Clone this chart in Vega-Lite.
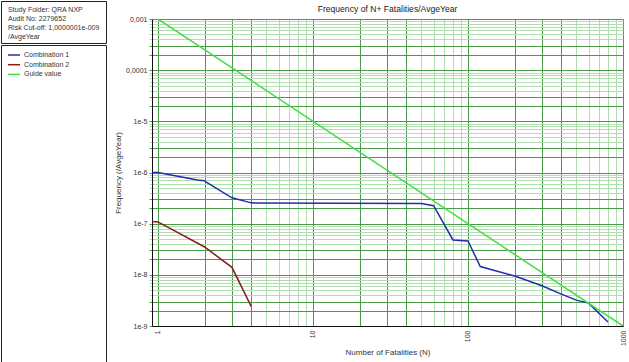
{
  "$schema": "https://vega.github.io/schema/vega-lite/v6.json",
  "padding": 0,
  "background": "white",
  "config": {
    "font": "Liberation Sans",
    "view": {"stroke": null},
    "axis": {"labelColor": "#333", "titleColor": "#333"}
  },
  "spacing": 7,
  "hconcat": [
    {
      "spacing": 0,
      "vconcat": [
        {
          "width": 105,
          "height": 42,
          "view": {"stroke": "#222", "strokeWidth": 1},
          "data": {
            "values": [
              {"row": 1, "col": 0, "info": "Study Folder: QRA NXP"},
              {"row": 2, "col": 0, "info": "Audit No: 2279652"},
              {"row": 3, "col": 0, "info": "Risk Cut-off: 1,0000001e-009"},
              {"row": 4, "col": 0, "info": "/AvgeYear"}
            ]
          },
          "mark": {"type": "text", "align": "left", "baseline": "middle", "fontSize": 7, "color": "#333"},
          "encoding": {
            "x": {"field": "col", "type": "ordinal", "scale": {"type": "point", "align": 0.067}, "axis": null},
            "y": {"field": "row", "type": "ordinal", "scale": {"type": "point", "padding": 0.86, "align": 0.62}, "axis": null},
            "text": {"field": "info"}
          }
        },
        {
          "width": 105,
          "height": 318,
          "view": {"stroke": "#222", "strokeWidth": 1},
          "data": {"values": []},
          "mark": "point"
        }
      ]
    },
    {
      "spacing": 0,
      "vconcat": [
        {
          "width": 471,
          "height": 14,
          "data": {"values": [{"chartTitle": "Frequency of N+ Fatalities/AvgeYear"}]},
          "mark": {"type": "text", "fontSize": 8.6, "color": "#222", "baseline": "middle", "align": "center", "dy": 1},
          "encoding": {"text": {"field": "chartTitle"}}
        },
        {
          "width": 471,
          "height": 307,
          "data": {
            "values": [
              {"series": "Combination 1", "N": 0.915, "F": 1e-6},
              {"series": "Combination 1", "N": 1, "F": 1e-6},
              {"series": "Combination 1", "N": 1.8, "F": 7.1e-7},
              {"series": "Combination 1", "N": 2, "F": 6.9e-7},
              {"series": "Combination 1", "N": 2.05, "F": 6.5e-7},
              {"series": "Combination 1", "N": 3, "F": 3.2e-7},
              {"series": "Combination 1", "N": 4, "F": 2.55e-7},
              {"series": "Combination 1", "N": 50, "F": 2.47e-7},
              {"series": "Combination 1", "N": 60, "F": 2.25e-7},
              {"series": "Combination 1", "N": 80, "F": 4.8e-8},
              {"series": "Combination 1", "N": 100, "F": 4.6e-8},
              {"series": "Combination 1", "N": 120, "F": 1.45e-8},
              {"series": "Combination 1", "N": 200, "F": 9.5e-9},
              {"series": "Combination 1", "N": 300, "F": 6.1e-9},
              {"series": "Combination 1", "N": 400, "F": 4.2e-9},
              {"series": "Combination 1", "N": 500, "F": 3.2e-9},
              {"series": "Combination 1", "N": 600, "F": 2.8e-9},
              {"series": "Combination 1", "N": 800, "F": 1.2e-9},
              {"series": "Combination 2", "N": 0.915, "F": 1.1e-7},
              {"series": "Combination 2", "N": 1, "F": 1.08e-7},
              {"series": "Combination 2", "N": 2, "F": 3.5e-8},
              {"series": "Combination 2", "N": 3, "F": 1.4e-8},
              {"series": "Combination 2", "N": 4, "F": 2.4e-9},
              {"series": "Guide value", "N": 1, "F": 1e-3},
              {"series": "Guide value", "N": 1000, "F": 1e-9}
            ]
          },
          "mark": {"type": "line", "strokeWidth": 1.5, "clip": true},
          "encoding": {
            "x": {
              "field": "N",
              "type": "quantitative",
              "scale": {"type": "log", "domain": [0.915, 1000], "nice": false},
              "axis": {
                "title": "Number of Fatalities (N)",
                "titleFontSize": 8,
                "titleFontWeight": "normal",
                "titlePadding": 3,
                "values": [1,2,3,4,5,6,7,8,9,10,20,30,40,50,60,70,80,90,100,200,300,400,500,600,700,800,900,1000],
                "labelExpr": "datum.value == 1 ? '1' : datum.value == 10 ? '10' : datum.value == 100 ? '100' : datum.value == 1000 ? '1000' : ''",
                "labelAngle": -90,
                "labelFontSize": 7,
                "labelPadding": 4,
                "labelOverlap": false,
                "labelFlush": false,
                "ticks": false,
                "domainColor": "#111",
                "gridOpacity": 1,
                "gridColor": {
                  "condition": {"test": "datum.value / pow(10, floor(log(datum.value)/LN10 + 1e-6)) < 4.5", "value": "#4a9a4a"},
                  "value": "#b0deb0"
                }
              }
            },
            "y": {
              "field": "F",
              "type": "quantitative",
              "scale": {"type": "log", "domain": [1e-9, 1e-3], "nice": false},
              "axis": {
                "title": "Frequency (/AvgeYear)",
                "titleFontSize": 8,
                "titleFontWeight": "normal",
                "titlePadding": 3,
                "values": [1e-9,2e-9,3e-9,4e-9,5e-9,6e-9,7e-9,8e-9,9e-9,1e-8,2e-8,3e-8,4e-8,5e-8,6e-8,7e-8,8e-8,9e-8,1e-7,2e-7,3e-7,4e-7,5e-7,6e-7,7e-7,8e-7,9e-7,1e-6,2e-6,3e-6,4e-6,5e-6,6e-6,7e-6,8e-6,9e-6,1e-5,2e-5,3e-5,4e-5,5e-5,6e-5,7e-5,8e-5,9e-5,1e-4,2e-4,3e-4,4e-4,5e-4,6e-4,7e-4,8e-4,9e-4,1e-3],
                "labelExpr": "abs(log(datum.value)/LN10 - round(log(datum.value)/LN10)) < 1e-6 ? (round(log(datum.value)/LN10) == -3 ? '0,001' : (round(log(datum.value)/LN10) == -4 ? '0,0001' : '1e' + round(log(datum.value)/LN10))) : ''",
                "labelFontSize": 7,
                "labelPadding": 2,
                "labelOverlap": false,
                "labelFlush": false,
                "tickSize": 3,
                "minExtent": 27,
                "maxExtent": 27,
                "domainColor": "#111",
                "gridOpacity": 1,
                "tickColor": {
                  "condition": {"test": "datum.value / pow(10, floor(log(datum.value)/LN10 + 1e-6)) < 3.5", "value": "#4a9a4a"},
                  "value": "#b0deb0"
                },
                "gridColor": {
                  "condition": {"test": "datum.value / pow(10, floor(log(datum.value)/LN10 + 1e-6)) < 3.5", "value": "#4a9a4a"},
                  "value": "#b0deb0"
                }
              }
            },
            "color": {
              "field": "series",
              "type": "nominal",
              "scale": {
                "domain": ["Combination 1", "Combination 2", "Guide value"],
                "range": ["#1f2fa8", "#8b1a1a", "#44dc44"]
              },
              "legend": {
                "orient": "none",
                "legendX": 8,
                "legendY": 49,
                "title": null,
                "labelFontSize": 7,
                "labelColor": "#333",
                "symbolType": "M-1.5,0H1.5",
                "symbolSize": 64,
                "symbolStrokeWidth": 1.5,
                "rowPadding": 1.7,
                "labelOffset": 5
              }
            }
          }
        }
      ]
    }
  ]
}
